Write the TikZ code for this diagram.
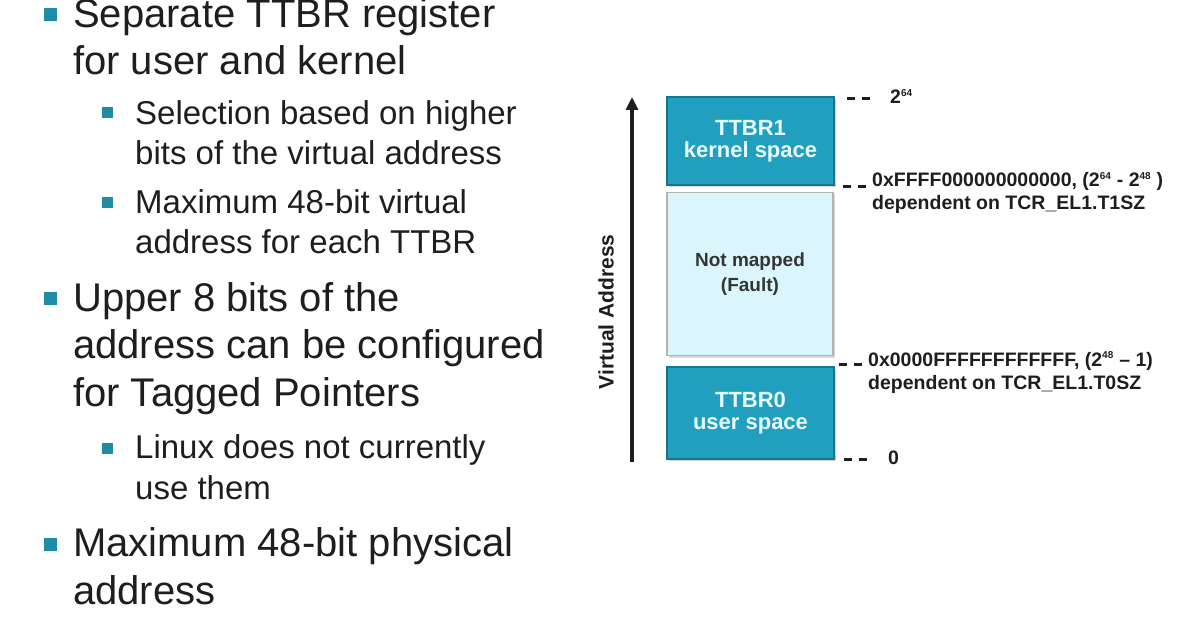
\documentclass[tikz,border=0pt]{standalone}
\usepackage{fontspec}
\setmainfont{Liberation Sans}
\usetikzlibrary{positioning,calc,shadows}
\usetikzlibrary{arrows.meta}

\definecolor{armteal}{RGB}{32,160,190}
\definecolor{armtealdark}{RGB}{22,118,142}
\definecolor{bulletteal}{RGB}{30,140,166}
\definecolor{faultfill}{RGB}{218,245,251}
\definecolor{textgray}{RGB}{30,30,30}

\newcommand{\tinysup}[1]{\textsuperscript{\fontsize{10}{10}\selectfont #1}}

\tikzset{
  mainitem/.style={anchor=base west, inner sep=0pt, align=left, text=textgray,
    font=\fontsize{40}{47.5}\selectfont},
  subitem/.style={anchor=base west, inner sep=0pt, align=left, text=textgray,
    font=\fontsize{33}{40.5}\selectfont},
  mainbullet/.style={fill=bulletteal, minimum size=13pt, inner sep=0pt},
  subbullet/.style={fill=bulletteal, minimum size=11pt, inner sep=0pt},
  regbox/.style={rectangle, fill=armteal, draw=armtealdark, line width=1.5pt,
    minimum width=167pt, inner sep=0pt, align=center, text={rgb,255:red,232;green,250;blue,255},
    font=\bfseries\fontsize{22}{21.5}\selectfont,
    drop shadow={shadow xshift=2pt, shadow yshift=-2pt, fill=black!35}},
  faultbox/.style={rectangle, fill=faultfill, draw=black!30, line width=1.5pt,
    minimum width=166pt, inner sep=0pt, align=center, text=textgray!90,
    font=\bfseries\fontsize{19}{25}\selectfont,
    drop shadow={shadow xshift=2pt, shadow yshift=-2pt, fill=black!30}},
  addrlabel/.style={anchor=base west, inner sep=0pt, align=left, text=textgray,
    font=\bfseries\fontsize{19.5}{23}\selectfont},
  tick/.style={line width=3pt, dash pattern=on 8pt off 7pt, textgray},
}

\begin{document}
\begin{tikzpicture}[x=1pt, y=-1pt]
  \useasboundingbox (0,0) rectangle (1196,628);

  % bullet list (nodes sit on the baseline of their last line)
  \node[mainitem] (sep) at (73,75) {Separate TTBR register\\for user and kernel};
  \node[mainbullet] (bsep) at (50,15) {};
  \node[subitem] (sel) at (135,165) {Selection based on higher\\bits of the virtual address};
  \node[subbullet] (bsel) at (107,113) {};
  \node[subitem] (max) at (135,254) {Maximum 48-bit virtual\\address for each TTBR};
  \node[subbullet] (bmax) at (107,203) {};
  \node[mainitem] (upp) at (73,406) {Upper 8 bits of the\\address can be configured\\for Tagged Pointers};
  \node[mainbullet] (bupp) at (50,298) {};
  \node[subitem] (lin) at (135,499) {Linux does not currently\\use them};
  \node[subbullet] (blin) at (107,448) {};
  \node[mainitem] (phys) at (73,604) {Maximum 48-bit physical\\address};
  \node[mainbullet] (bphys) at (50,544) {};

  % address space
  \node[regbox, minimum height=88pt] (ttbrone) at (750.5,141) {TTBR1\\kernel space};
  \node[faultbox, minimum height=163pt] (nomap) at (750,274) {Not mapped\\(Fault)};
  \node[regbox, minimum height=92pt] (ttbrzero) at (750.5,413) {TTBR0\\user space};

  \coordinate (vabot) at (632,462);
  \coordinate (vatop) at (632,97);
  \draw[line width=3.2pt, textgray, -{Triangle[length=13pt,width=12pt]}] (vabot) -- (vatop);
  \node[rotate=90, text=textgray, font=\bfseries\fontsize{21}{24}\selectfont] (vaddr) at (606,312) {Virtual Address};

  % boundaries
  \node[addrlabel] (top) at (890,104) {2\tinysup{64}};
  \node[addrlabel] (kbound) at (872,210) {0xFFFF000000000000, (2\tinysup{64} - 2\tinysup{48} )\\dependent on TCR\_EL1.T1SZ};
  \node[addrlabel] (ubound) at (868,389) {0x0000FFFFFFFFFFFF, (2\tinysup{48} -- 1)\\dependent on TCR\_EL1.T0SZ};
  \node[addrlabel] (zero) at (888,464) {0};

  \draw[tick] ($(ttbrone.north east)+(12,2)$) -- ++(23,0);
  \draw[tick] ($(ttbrone.south east)+(8,1)$) -- ++(23,0);
  \draw[tick] ($(ttbrzero.north east)+(4,-2)$) -- ++(23,0);
  \draw[tick] ($(ttbrzero.south east)+(9,0)$) -- ++(23,0);
\end{tikzpicture}
\end{document}
